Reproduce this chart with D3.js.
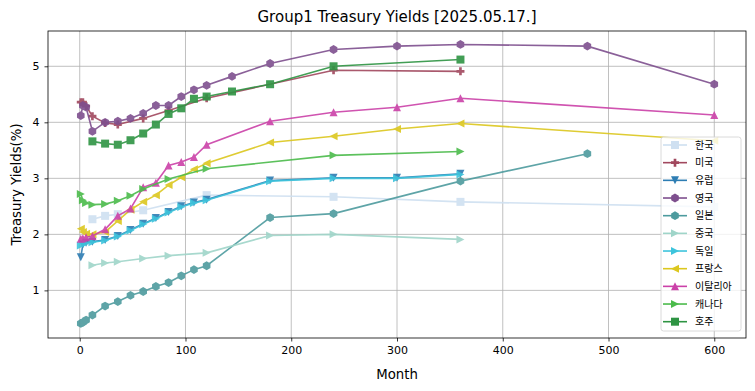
<!DOCTYPE html>
<html>
<head>
<meta charset="utf-8">
<script src="https://cdn.jsdelivr.net/npm/d3@7"></script>
<style>
  body { margin: 0; background: #fff; }
  text { font-family: "DejaVu Sans", sans-serif; }
  .leg text { font-family: "Noto Sans CJK KR", "DejaVu Sans", sans-serif; }
</style>
</head>
<body>
<div id="chart"></div>
<script>
// series in legend order
const names = ["한국", "미국", "유럽", "영국", "일본", "중국", "독일", "프랑스", "이탈리아", "캐나다", "호주"];
const colors = ["#cfe0f1", "#a1485e", "#2d7db3", "#7e4f8e", "#4d9b9e", "#9fd5c9", "#3dc4dc", "#dcc71e", "#cb41a8", "#4bbb4b", "#2e9443"];
const markers = ["square", "plus", "tridown", "hex", "hex", "triright", "triright", "trileft", "triup", "triright", "square"];

const krMonths = [12, 24, 36, 60, 120, 240, 360, 600];
const krYield  = [2.27, 2.33, 2.36, 2.43, 2.70, 2.67, 2.58, 2.49];

const usMonths = [1, 3, 6, 12, 24, 36, 60, 84, 120, 240, 360];
const usYield  = [4.36, 4.36, 4.29, 4.11, 3.99, 3.96, 4.07, 4.21, 4.43, 4.93, 4.91];

const euMonths = [1, 3, 6, 12, 24, 36, 48, 60, 72, 84, 96, 108, 120, 180, 240, 300, 360];
const euYield  = [1.59, 1.82, 1.85, 1.87, 1.90, 1.97, 2.08, 2.19, 2.29, 2.40, 2.50, 2.57, 2.62, 2.96, 3.01, 3.01, 3.08];

const ukMonths = [1, 3, 6, 12, 24, 36, 48, 60, 72, 84, 96, 108, 120, 144, 180, 240, 300, 360, 480, 600];
const ukYield  = [4.12, 4.30, 4.27, 3.84, 4.00, 4.02, 4.07, 4.16, 4.30, 4.30, 4.46, 4.58, 4.66, 4.82, 5.05, 5.30, 5.36, 5.39, 5.36, 4.68];

const jpMonths = [1, 3, 6, 12, 24, 36, 48, 60, 72, 84, 96, 108, 120, 180, 240, 360, 480];
const jpYield  = [0.41, 0.43, 0.47, 0.56, 0.72, 0.80, 0.91, 0.98, 1.07, 1.14, 1.26, 1.37, 1.44, 2.30, 2.37, 2.95, 3.44];

const cnMonths = [12, 24, 36, 60, 84, 120, 180, 240, 360];
const cnYield  = [1.45, 1.49, 1.51, 1.57, 1.62, 1.67, 1.98, 2.00, 1.91];

const deMonths = [1, 3, 6, 12, 24, 36, 48, 60, 72, 84, 96, 108, 120, 180, 240, 300, 360];
const deYield  = [1.80, 1.83, 1.84, 1.86, 1.89, 1.96, 2.07, 2.18, 2.28, 2.39, 2.49, 2.56, 2.61, 2.95, 3.00, 3.00, 3.07];

const frMonths = [1, 3, 6, 12, 24, 36, 48, 60, 72, 84, 96, 108, 120, 180, 240, 300, 360, 600];
const frYield  = [2.10, 2.04, 2.01, 2.00, 2.04, 2.24, 2.44, 2.58, 2.70, 2.88, 3.02, 3.16, 3.27, 3.64, 3.75, 3.88, 3.98, 3.67];

const itMonths = [1, 3, 6, 12, 24, 36, 48, 60, 72, 84, 96, 108, 120, 180, 240, 300, 360, 600];
const itYield  = [1.92, 1.93, 1.95, 1.97, 2.09, 2.33, 2.46, 2.84, 2.92, 3.23, 3.29, 3.38, 3.60, 4.02, 4.18, 4.27, 4.43, 4.13];

const caMonths = [1, 3, 6, 12, 24, 36, 48, 60, 84, 120, 240, 360];
const caYield  = [2.72, 2.61, 2.56, 2.53, 2.54, 2.60, 2.69, 2.81, 2.99, 3.17, 3.41, 3.48];

const auMonths = [12, 24, 36, 48, 60, 72, 84, 96, 108, 120, 144, 180, 240, 360];
const auYield  = [3.66, 3.62, 3.60, 3.68, 3.80, 3.96, 4.15, 4.25, 4.42, 4.46, 4.55, 4.68, 5.00, 5.12];

const xTicks = [0, 100, 200, 300, 400, 500, 600];
const yTicks = [1, 2, 3, 4, 5];

const allMonths = [krMonths, usMonths, euMonths, ukMonths, jpMonths, cnMonths, deMonths, frMonths, itMonths, caMonths, auMonths];
const allYields = [krYield, usYield, euYield, ukYield, jpYield, cnYield, deYield, frYield, itYield, caYield, auYield];

const series = names.map((n, i) => ({
    name: n, color: colors[i], marker: markers[i],
    values: allMonths[i].map((m, j) => ({ m: m, y: allYields[i][j] }))
}));

const width = 755, height = 391;
const margin = { top: 31, right: 9, bottom: 53, left: 48 };
const innerWidth = width - margin.left - margin.right;
const innerHeight = height - margin.top - margin.bottom;

const svg = d3.select("#chart").append("svg")
    .attr("width", width).attr("height", height);
const g = svg.append("g").attr("transform", `translate(${margin.left},${margin.top})`);

const x = d3.scaleLinear().domain([-30, 630]).range([0, innerWidth]);
const y = d3.scaleLinear().domain([0.15, 5.63]).range([innerHeight, 0]);

// griglia
g.append("g").selectAll("line").data(xTicks).enter().append("line")
    .attr("x1", d => x(d)).attr("x2", d => x(d)).attr("y1", 0).attr("y2", innerHeight)
    .attr("stroke", "#b0b0b0").attr("stroke-width", 0.8);
g.append("g").selectAll("line").data(yTicks).enter().append("line")
    .attr("y1", d => y(d)).attr("y2", d => y(d)).attr("x1", 0).attr("x2", innerWidth)
    .attr("stroke", "#b0b0b0").attr("stroke-width", 0.8);

// assi
const xAxis = g.append("g").attr("transform", `translate(0,${innerHeight})`)
    .call(d3.axisBottom(x).tickValues(xTicks).tickFormat(d3.format("d")).tickSize(3.5).tickPadding(5).tickSizeOuter(0));
const yAxis = g.append("g")
    .call(d3.axisLeft(y).tickValues(yTicks).tickFormat(d3.format("d")).tickSize(3.5).tickPadding(5).tickSizeOuter(0));
[xAxis, yAxis].forEach(a => {
    a.select(".domain").remove();
    a.selectAll("text").attr("font-size", 11).attr("fill", "#000").style("font-family", "DejaVu Sans");
    a.selectAll("line").attr("stroke", "#000").attr("stroke-width", 0.8);
});

function markerPath(type, s) {
    const r = s / 2;
    if (type === "square") return `M${-r},${-r}H${r}V${r}H${-r}Z`;
    if (type === "hex") {
        const p = d3.range(6).map(k => {
            const a = (-90 + k * 60) * Math.PI / 180;
            return [r * 1.1 * Math.cos(a), r * 1.1 * Math.sin(a)];
        });
        return "M" + p.map(q => q.join(",")).join("L") + "Z";
    }
    if (type === "plus") {
        const t = r / 3;
        return `M${-t},${-r}H${t}V${-t}H${r}V${t}H${t}V${r}H${-t}V${t}H${-r}V${-t}H${-t}Z`;
    }
    if (type === "triup") return `M0,${-r}L${r},${r}L${-r},${r}Z`;
    if (type === "tridown") return `M0,${r}L${r},${-r}L${-r},${-r}Z`;
    if (type === "triright") return `M${r},0L${-r},${-r}L${-r},${r}Z`;
    if (type === "trileft") return `M${-r},0L${r},${-r}L${r},${r}Z`;
}

const line = d3.line().x(d => x(d.m)).y(d => y(d.y));

const plot = g.append("g");
series.forEach(s => {
    const sg = plot.append("g").attr("opacity", 0.9);
    sg.append("path").datum(s.values)
        .attr("d", line).attr("fill", "none")
        .attr("stroke", s.color).attr("stroke-width", 1.6);
    sg.selectAll(".pt").data(s.values).enter().append("path")
        .attr("class", "pt")
        .attr("transform", d => `translate(${x(d.m)},${y(d.y)})`)
        .attr("d", markerPath(s.marker, 8))
        .attr("fill", s.color);
});

// cornice
g.append("rect").attr("width", innerWidth).attr("height", innerHeight)
    .attr("fill", "none").attr("stroke", "#000").attr("stroke-width", 0.8);

// titoli
svg.append("text").attr("x", margin.left + innerWidth / 2).attr("y", 22)
    .attr("text-anchor", "middle").attr("font-size", 15).text("Group1 Treasury Yields [2025.05.17.]");
svg.append("text").attr("x", margin.left + innerWidth / 2).attr("y", 379)
    .attr("text-anchor", "middle").attr("font-size", 13.3).text("Month");
svg.append("text").attr("transform", `translate(21,${margin.top + innerHeight / 2}) rotate(-90)`)
    .attr("text-anchor", "middle").attr("font-size", 13.3).text("Treasury Yields(%)");

// legenda
const leg = svg.append("g").attr("class", "leg").attr("transform", "translate(661,137)");
leg.append("rect").attr("width", 80).attr("height", 194).attr("rx", 2.5)
    .attr("fill", "#fff").attr("fill-opacity", 0.8).attr("stroke", "#d0d0d0").attr("stroke-width", 0.8);
series.forEach((s, i) => {
    const row = leg.append("g").attr("transform", `translate(0,${8 + i * 17.67})`);
    row.append("line").attr("x1", 2).attr("x2", 26).attr("stroke", s.color).attr("stroke-width", 1.6);
    row.append("path").attr("transform", "translate(14,0)").attr("d", markerPath(s.marker, 8)).attr("fill", s.color);
    row.append("text").attr("x", 34).attr("y", 3.5).attr("font-size", 10).text(s.name);
});
</script>
</body>
</html>
